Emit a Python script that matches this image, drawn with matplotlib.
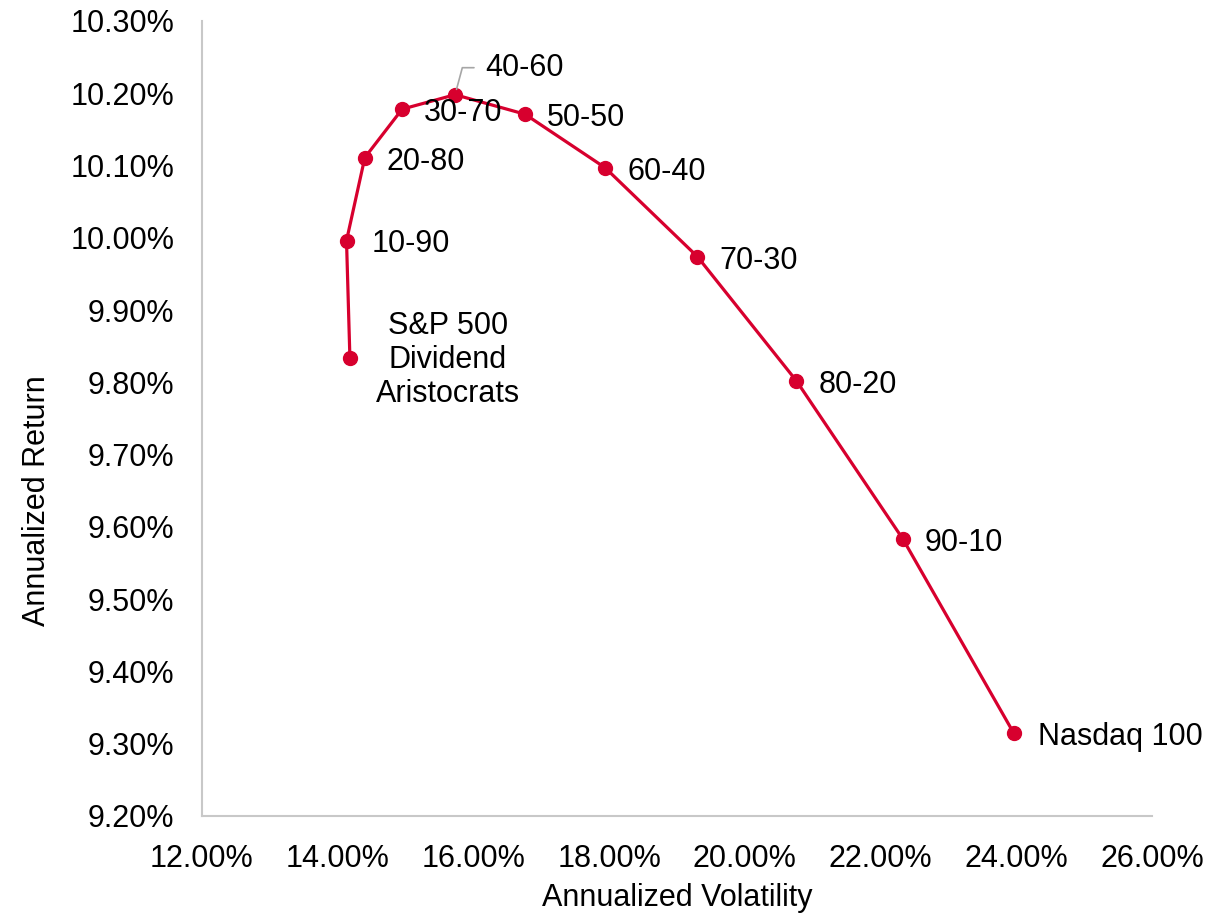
import matplotlib
matplotlib.use("Agg")
import matplotlib.pyplot as plt
from matplotlib.ticker import FuncFormatter

plt.rcParams['font.family'] = ['Liberation Sans', 'DejaVu Sans']

# Portfolio mixes: Nasdaq 100 share - Dividend Aristocrats share
labels = ["S&P 500\nDividend\nAristocrats", "10-90", "20-80", "30-70", "40-60",
          "50-50", "60-40", "70-30", "80-20", "90-10", "Nasdaq 100"]
volatility = [14.18, 14.13, 14.40, 14.95, 15.73, 16.76, 17.94, 19.30, 20.76, 22.33, 23.96]
returns = [9.834, 9.996, 10.111, 10.178, 10.198, 10.171, 10.097, 9.974, 9.802, 9.583, 9.315]

# label offsets in pixels (dx, dy)
offsets = [(98, -2), (25, -3), (22, -4), (22, -4), (30, 27), (22, -4),
           (22, -4), (22, -4), (22, -4), (22, -4), (24, -4)]

red = "#D7002E"
grey = "#C8C8C8"
fs = 22

fig = plt.figure(figsize=(12.27, 9.16), dpi=100)
ax = fig.add_axes([0.1646, 0.1092, 0.7743, 0.8679])

ax.plot(volatility, returns, color=red, lw=2.3, marker="o", ms=10,
        markeredgecolor=red, markerfacecolor=red, zorder=3)

for i, (lab, x, y) in enumerate(zip(labels, volatility, returns)):
    dx, dy = offsets[i]
    if i == 0:
        ax.annotate(lab, (x, y), xytext=(dx, dy), textcoords="offset pixels",
                    ha="center", va="center", multialignment="center",
                    fontsize=fs, linespacing=1.17, zorder=4)
    elif lab == "40-60":
        ax.annotate(lab, (x, y), xytext=(dx, dy), textcoords="offset pixels",
                    ha="left", va="center", fontsize=fs, zorder=4,
                    arrowprops=dict(arrowstyle="-", color="#A6A6A6", lw=1.2,
                                    shrinkA=6, shrinkB=4,
                                    connectionstyle="angle,angleA=0,angleB=75,rad=0"))
    else:
        ax.annotate(lab, (x, y), xytext=(dx, dy), textcoords="offset pixels",
                    ha="left", va="center", fontsize=fs, zorder=4)

ax.set_xlim(12, 26)
ax.set_ylim(9.2, 10.3)
ax.set_xticks([12, 14, 16, 18, 20, 22, 24, 26])
ax.set_yticks([9.2 + 0.1 * k for k in range(12)])
ax.xaxis.set_major_formatter(FuncFormatter(lambda v, p: f"{v:.2f}%"))
ax.yaxis.set_major_formatter(FuncFormatter(lambda v, p: f"{v:.2f}%"))
ax.tick_params(axis="both", length=0, labelsize=fs)
ax.tick_params(axis="y", pad=20)
ax.tick_params(axis="x", pad=20)

for s in ["top", "right"]:
    ax.spines[s].set_visible(False)
for s in ["left", "bottom"]:
    ax.spines[s].set_color(grey)
    ax.spines[s].set_linewidth(1.5)

ax.set_xlabel("Annualized Volatility", fontsize=fs, va="center")
ax.set_ylabel("Annualized Return", fontsize=fs, va="center")
ax.xaxis.set_label_coords(0.5, -0.103)
ax.yaxis.set_label_coords(-0.174, 0.397)

fig.savefig("out.png", dpi=100)
